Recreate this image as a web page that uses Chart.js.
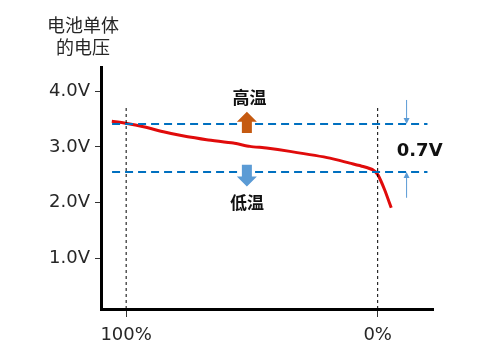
<!DOCTYPE html>
<html>
<head>
<meta charset="utf-8">
<script src="https://cdn.jsdelivr.net/npm/chart.js@4"></script>
<style>
  html, body { margin: 0; padding: 0; background: #fff; }
  #wrap { width: 500px; height: 354px; }
</style>
</head>
<body>
<div id="wrap"><canvas id="c" width="500" height="354"></canvas></div>
<script>
// discharge position: 0 = 100% SOC, 100 = 0% SOC
const socPos = [-5.7, 0.3, 6.9, 14.8, 21.4, 32, 42.6, 49.2, 55.8, 65.1, 81, 88.9, 94.2, 98.1, 100.1, 102.8, 105.4];
const cellVoltage = [3.46, 3.42, 3.36, 3.27, 3.21, 3.13, 3.07, 3.01, 2.98, 2.92, 2.80, 2.71, 2.65, 2.59, 2.50, 2.23, 1.91];

const yTicks = [1, 2, 3, 4];
const xTicks = [0, 100];
const xTickLabels = ['100%', '0%'];

const highLevel = 3.41;   // 高温
const lowLevel = 2.55;    // 低温
const levelSpan = [-5.6, 119.8];
const markerTop = 3.70;
const yMin = 0.1, yMax = 4.43;

const arrowX = 48;
const upArrow = [3.25, 3.63];
const downArrow = [2.68, 2.29];
const hotLabel = { x: 49, y: 3.89, text: '高温' };
const coldLabel = { x: 48, y: 2.0, text: '低温' };
const gapLabel = { x: 116.7, y: 2.93, text: '0.7V' };
const gapArrowX = 111.5;
const gapArrowTop = [3.84, highLevel];
const gapArrowBottom = [2.09, lowLevel];

const hline = (v) => levelSpan.map(x => ({ x, y: v }));
const vline = (x) => [{ x, y: yMin }, { x, y: markerTop }];

const annotations = {
  id: 'annotations',
  afterDatasetsDraw(chart) {
    const { ctx, scales: { x, y } } = chart;
    const px = x.getPixelForValue.bind(x), py = y.getPixelForValue.bind(y);
    ctx.save();

    // thick block arrows
    const block = (cx, from, to, colour) => {
      const x0 = px(cx), y0 = py(from), y1 = py(to);
      const dir = y1 < y0 ? -1 : 1;
      const head = 10;
      ctx.fillStyle = colour;
      ctx.beginPath();
      ctx.moveTo(x0 - 5, y0);
      ctx.lineTo(x0 - 5, y1 - dir * head);
      ctx.lineTo(x0 - 10, y1 - dir * head);
      ctx.lineTo(x0, y1);
      ctx.lineTo(x0 + 10, y1 - dir * head);
      ctx.lineTo(x0 + 5, y1 - dir * head);
      ctx.lineTo(x0 + 5, y0);
      ctx.closePath();
      ctx.fill();
    };
    block(arrowX, upArrow[0], upArrow[1], '#C55A11');
    block(arrowX, downArrow[0], downArrow[1], '#5B9BD5');

    // thin arrows for the gap
    const thin = (cx, from, to) => {
      const x0 = px(cx), y0 = py(from), y1 = py(to);
      const dir = y1 < y0 ? -1 : 1;
      ctx.strokeStyle = '#5B9BD5';
      ctx.fillStyle = '#5B9BD5';
      ctx.lineWidth = 1;
      ctx.beginPath();
      ctx.moveTo(x0, y0);
      ctx.lineTo(x0, y1 - dir * 4);
      ctx.stroke();
      ctx.beginPath();
      ctx.moveTo(x0, y1);
      ctx.lineTo(x0 - 3, y1 - dir * 6);
      ctx.lineTo(x0 + 3, y1 - dir * 6);
      ctx.closePath();
      ctx.fill();
    };
    thin(gapArrowX, gapArrowTop[0], gapArrowTop[1]);
    thin(gapArrowX, gapArrowBottom[0], gapArrowBottom[1]);

    ctx.fillStyle = '#111';
    ctx.textAlign = 'center';
    ctx.textBaseline = 'middle';
    ctx.font = 'bold 17px "Noto Sans CJK SC"';
    for (const l of [hotLabel, coldLabel]) ctx.fillText(l.text, px(l.x), py(l.y));
    ctx.font = 'bold 18px "DejaVu Sans"';
    ctx.fillText(gapLabel.text, px(gapLabel.x), py(gapLabel.y));

    // axis title
    ctx.fillStyle = '#262626';
    ctx.font = '18px "Noto Sans CJK SC"';
    ctx.fillText('电池单体', 83, 25);
    ctx.fillText('的电压', 83, 47);
    ctx.restore();
  }
};

const dashed = (data, colour, width, dash) => ({
  data, borderColor: colour, borderWidth: width, borderDash: dash,
  pointRadius: 0, tension: 0, fill: false,
});

new Chart(document.getElementById('c'), {
  type: 'line',
  data: {
    datasets: [
      dashed(vline(0), '#000', 1, [3, 3]),
      dashed(vline(100), '#000', 1, [3, 3]),
      dashed(hline(highLevel), '#0070C0', 2, [8, 5]),
      dashed(hline(lowLevel), '#0070C0', 2, [8, 5]),
      {
        data: socPos.map((x, i) => ({ x, y: cellVoltage[i] })),
        borderColor: '#E00B0B',
        borderWidth: 3,
        pointRadius: 0,
        tension: 0.2,
        fill: false,
      },
    ],
  },
  options: {
    responsive: false,
    animation: false,
    layout: { padding: { top: 67, right: 67, left: 0, bottom: 0 } },
    plugins: { legend: { display: false }, tooltip: { enabled: false } },
    scales: {
      x: {
        type: 'linear',
        min: -10, max: 122,
        afterBuildTicks: (s) => { s.ticks = xTicks.map(value => ({ value })); },
        afterFit: (s) => { s.height = 45; },
        ticks: {
          color: '#262626',
          font: { family: 'DejaVu Sans', size: 18 },
          padding: 8,
          maxRotation: 0,
          callback: (v) => xTickLabels[xTicks.indexOf(v)],
        },
        grid: { drawOnChartArea: false, drawTicks: true, tickLength: 8, tickColor: '#333', tickWidth: 1 },
        border: { display: true, color: '#000', width: 3 },
      },
      y: {
        min: yMin, max: yMax,
        afterBuildTicks: (s) => { s.ticks = yTicks.map(value => ({ value })); },
        afterFit: (s) => { s.width = 101; },
        ticks: {
          color: '#262626',
          font: { family: 'DejaVu Sans', size: 18 },
          padding: 5,
          callback: (v) => v.toFixed(1) + 'V',
        },
        grid: { drawOnChartArea: false, drawTicks: true, tickLength: 6, tickColor: '#333', tickWidth: 1 },
        border: { display: true, color: '#000', width: 3 },
      },
    },
  },
  plugins: [annotations],
});
</script>
</body>
</html>
